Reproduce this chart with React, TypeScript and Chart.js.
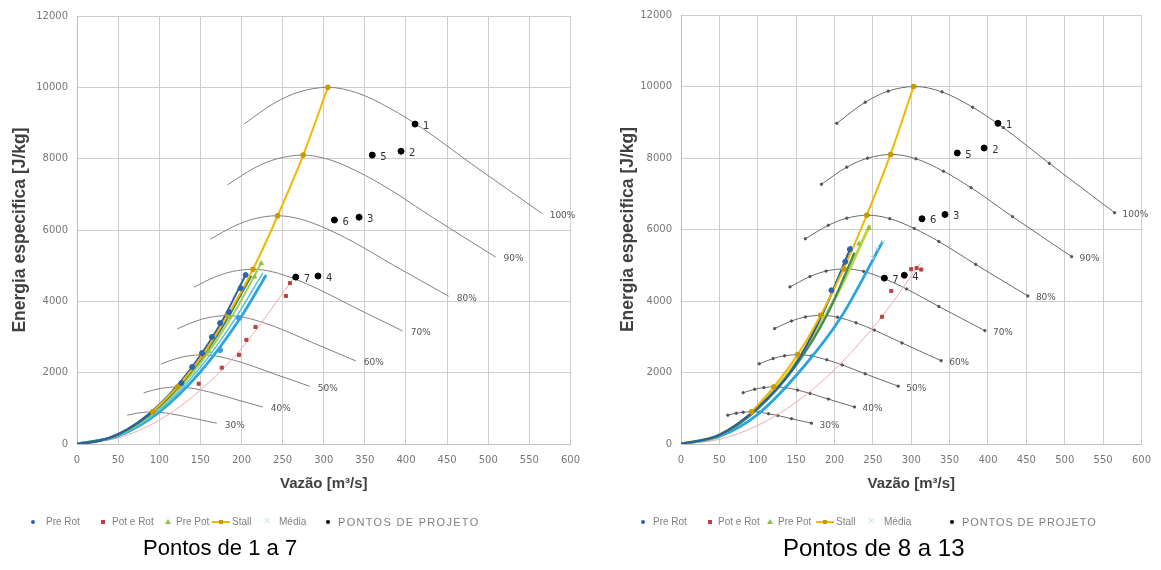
import React, { useEffect, useRef } from 'react';
import { Chart, registerables } from 'chart.js';
Chart.register(...registerables);

// ---------- rotation curves (same in both charts) ----------
const curveLabels = ['100%', '90%', '80%', '70%', '60%', '50%', '40%', '30%'];
const c100x = [203, 240, 270, 305, 340, 380, 420, 480, 565];
const c100y = [8970, 9560, 9870, 10000, 9850, 9420, 8850, 7850, 6470];
const c90x = [183, 216, 243, 275, 306, 342, 378, 432, 509];
const c90y = [7266, 7744, 7995, 8100, 7979, 7630, 7169, 6359, 5241];
const c80x = [162, 192, 216, 244, 272, 304, 336, 384, 452];
const c80y = [5741, 6118, 6317, 6400, 6304, 6029, 5664, 5024, 4141];
const c70x = [142, 168, 189, 214, 238, 266, 294, 336, 396];
const c70y = [4395, 4684, 4836, 4900, 4827, 4616, 4337, 3847, 3170];
const c60x = [122, 144, 162, 183, 204, 228, 252, 288, 339];
const c60y = [3229, 3442, 3553, 3600, 3546, 3391, 3186, 2826, 2329];
const c50x = [102, 120, 135, 153, 170, 190, 210, 240, 283];
const c50y = [2243, 2390, 2468, 2500, 2463, 2355, 2213, 1963, 1618];
const c40x = [81, 96, 108, 122, 136, 152, 168, 192, 226];
const c40y = [1435, 1530, 1579, 1600, 1576, 1507, 1416, 1256, 1035];
const c30x = [61, 72, 81, 92, 102, 114, 126, 144, 170];
const c30y = [807, 860, 888, 900, 887, 848, 797, 707, 582];
const curvesX = [c100x, c90x, c80x, c70x, c60x, c50x, c40x, c30x];
const curvesY = [c100y, c90y, c80y, c70y, c60y, c50y, c40y, c30y];

// ---------- stall line ----------
const stallX = [92, 122, 153, 183, 214, 244, 275, 305];
const stallY = [900, 1600, 2500, 3600, 4900, 6400, 8100, 10000];

// ---------- left chart: Pontos de 1 a 7 ----------
const L_preRotLineX = [0, 25, 50, 75, 100, 125, 150, 175, 205];
const L_preRotLineY = [0, 70, 280, 620, 1100, 1720, 2480, 3390, 4740];
const L_tealLineX = [0, 50, 100, 150, 180, 212];
const L_tealLineY = [0, 260, 1050, 2360, 3400, 4720];
const L_prePotLineX = [0, 50, 100, 150, 190, 224];
const L_prePotLineY = [0, 250, 1010, 2270, 3640, 5070];
const L_cyanLineX = [0, 50, 100, 150, 190, 226];
const L_cyanLineY = [0, 235, 950, 2150, 3430, 4800];
const L_mediaLineX = [0, 50, 100, 150, 200, 230];
const L_mediaLineY = [0, 225, 895, 2020, 3580, 4740];
const L_potRotLineX = [0, 50, 100, 150, 200, 265];
const L_potRotLineY = [0, 170, 670, 1510, 2680, 4700];
const L_preRotX = [127, 140, 152, 164, 174, 185, 199, 205];
const L_preRotY = [1710, 2160, 2550, 3000, 3390, 3700, 4370, 4740];
const L_potRotX = [148, 176, 197, 206, 217, 254, 259];
const L_potRotY = [1690, 2140, 2500, 2920, 3280, 4150, 4510];
const L_prePotX = [160, 185, 216, 224];
const L_prePotY = [2600, 3560, 4690, 5070];
const L_mediaX = [174, 197];
const L_mediaY = [2630, 3530];
const L_projX = [411, 394, 343, 293, 359, 313, 266];
const L_projY = [8970, 8210, 6360, 4710, 8100, 6280, 4680];
const projLabels = ['1', '2', '3', '4', '5', '6', '7'];

// ---------- right chart: Pontos de 8 a 13 ----------
const R_preRotLineX = [0, 50, 100, 144, 182, 222];
const R_preRotLineY = [0, 260, 1020, 2060, 3530, 5530];
const R_greenLineX = [0, 50, 100, 150, 190, 226];
const R_greenLineY = [0, 240, 980, 2200, 3600, 5350];
const R_prePotLineX = [0, 50, 100, 150, 200, 246];
const R_prePotLineY = [0, 250, 1010, 2280, 4040, 6120];
const R_mediaLineX = [0, 50, 100, 159, 208, 263];
const R_mediaLineY = [0, 210, 830, 2140, 3530, 5670];
const R_potRotLineX = [0, 50, 100, 150, 200, 262, 312];
const R_potRotLineY = [0, 130, 520, 1170, 2080, 3570, 5060];
const R_stallX = [92, 121, 152, 182, 212, 242, 273, 303];
const R_stallY = [900, 1600, 2500, 3600, 4900, 6400, 8100, 10000];
const R_preRotX = [196, 214, 220];
const R_preRotY = [4300, 5100, 5450];
const R_potRotX = [262, 274, 300, 307, 313];
const R_potRotY = [3560, 4280, 4890, 4920, 4880];
const R_prePotX = [232, 245];
const R_prePotY = [5600, 6030];
const R_mediaX = [250, 255, 263];
const R_mediaY = [5200, 5450, 5650];
const R_projX = [413, 395, 344, 291, 360, 314, 265];
const R_projY = [8970, 8280, 6420, 4720, 8140, 6300, 4640];

const pts = (xs: number[], ys: number[]) => xs.map((x, i) => ({ x, y: ys[i] }));

const FONT = 'DejaVu Sans';

const labelPlugin = {
  id: 'labels',
  afterDatasetsDraw(chart: any) {
    const ctx = chart.ctx;
    ctx.save();
    chart.data.datasets.forEach((ds: any, i: number) => {
      const meta = chart.getDatasetMeta(i);
      if (ds.endLabel) {
        const last = meta.data[meta.data.length - 1];
        ctx.font = `9px ${FONT}`;
        ctx.fillStyle = '#555555';
        ctx.textAlign = 'left';
        ctx.textBaseline = 'middle';
        ctx.fillText(ds.endLabel, last.x + 8, last.y + 2);
      }
      if (ds.pointLabels) {
        ctx.font = `10px ${FONT}`;
        ctx.fillStyle = '#333333';
        ctx.textAlign = 'left';
        ctx.textBaseline = 'middle';
        meta.data.forEach((el: any, j: number) => {
          ctx.fillText(ds.pointLabels[j], el.x + 8, el.y + 2);
        });
      }
    });
    ctx.restore();
  },
};

function line(data: any, color: string, width: number, extra: any = {}) {
  return {
    data,
    showLine: true,
    borderColor: color,
    backgroundColor: color,
    borderWidth: width,
    pointRadius: 0,
    cubicInterpolationMode: 'monotone',
    ...extra,
  };
}
function marks(data: any, color: string, style: string, r: number, extra: any = {}) {
  return {
    data,
    showLine: false,
    pointStyle: style,
    pointRadius: r,
    pointBackgroundColor: color,
    pointBorderColor: color,
    borderColor: color,
    backgroundColor: color,
    ...extra,
  };
}

function makeConfig(side: 'L' | 'R') {
  const isL = side === 'L';
  const datasets: any[] = [];
  datasets.push(marks(pts(isL ? L_projX : R_projX, isL ? L_projY : R_projY), '#000000', 'circle', 3, { pointLabels: projLabels }));
  if (isL) {
    datasets.push(marks(pts(L_potRotX, L_potRotY), '#b8423f', 'rect', 2.2));
    datasets.push(marks(pts(L_preRotX, L_preRotY), '#2f64aa', 'circle', 2.5));
    datasets.push(marks(pts(L_mediaX, L_mediaY), '#3d9be0', 'circle', 2.5));
    datasets.push(marks(pts(L_prePotX, L_prePotY), '#8fc043', 'triangle', 2.5));
    datasets.push(line(pts(stallX, stallY), '#f2b800', 2, { pointRadius: 1.8, pointBackgroundColor: '#c89a00', pointBorderColor: '#c89a00' }));
    datasets.push(line(pts(L_preRotLineX, L_preRotLineY), '#2c5f9e', 2));
    datasets.push(line(pts(L_tealLineX, L_tealLineY), '#2a7f78', 2));
    datasets.push(line(pts(L_prePotLineX, L_prePotLineY), '#a6cf4a', 2));
    datasets.push(line(pts(L_cyanLineX, L_cyanLineY), '#56c3e6', 1.6));
    datasets.push(line(pts(L_mediaLineX, L_mediaLineY), '#2aa5df', 2.8));
    datasets.push(line(pts(L_potRotLineX, L_potRotLineY), '#f2a9a9', 1));
  } else {
    datasets.push(marks(pts(R_potRotX, R_potRotY), '#b8423f', 'rect', 2.2));
    datasets.push(marks(pts(R_preRotX, R_preRotY), '#2f64aa', 'circle', 2.5));
    datasets.push(marks(pts(R_mediaX, R_mediaY), '#a7d8f0', 'crossRot', 3, { pointBorderWidth: 1 }));
    datasets.push(marks(pts(R_prePotX, R_prePotY), '#8fc043', 'triangle', 2.5));
    datasets.push(line(pts(R_stallX, R_stallY), '#f2b800', 2, { pointRadius: 1.8, pointBackgroundColor: '#c89a00', pointBorderColor: '#c89a00' }));
    datasets.push(line(pts(R_preRotLineX, R_preRotLineY), '#2c5f9e', 2.2));
    datasets.push(line(pts(R_greenLineX, R_greenLineY), '#3f8a5e', 2.2));
    datasets.push(line(pts(R_prePotLineX, R_prePotLineY), '#bcd53c', 3));
    datasets.push(line(pts(R_mediaLineX, R_mediaLineY), '#2aa5df', 2.8));
    datasets.push(line(pts(R_potRotLineX, R_potRotLineY), '#f2a9a9', 1));
  }
  curvesX.forEach((cx, i) => {
    datasets.push(
      line(pts(cx, curvesY[i]), isL ? '#808080' : '#6a6a6a', 1, {
        endLabel: curveLabels[i],
        pointRadius: isL ? 0 : 1.2,
        pointBackgroundColor: '#555555',
        pointBorderColor: '#555555',
      })
    );
  });

  const tickFont = { family: FONT, size: 10 };
  const xTitleFont = { family: 'Liberation Sans', size: 15, weight: 'bold' as const };
  const yTitleFont = { family: 'Liberation Sans', size: 17.5, weight: 'bold' as const };
  const plain = (v: any) => String(v);
  return {
    type: 'scatter' as const,
    data: { datasets },
    options: {
      responsive: false,
      animation: false as const,
      devicePixelRatio: 1,
      layout: { padding: isL ? { left: 0, right: 17, top: 16, bottom: 0 } : { left: 0, right: 12, top: 12, bottom: 0 } },
      plugins: { legend: { display: false }, tooltip: { enabled: false } },
      scales: {
        x: {
          type: 'linear' as const,
          min: 0,
          max: 600,
          ticks: { stepSize: 50, font: tickFont, color: '#777777', padding: 10, maxRotation: 0, callback: plain },
          grid: { color: '#cdcdcd', drawTicks: false },
          border: { color: '#bdbdbd' },
          title: { display: true, text: 'Vazão [m³/s]', font: xTitleFont, color: '#404040', padding: { top: 0, bottom: 7 } },
          afterFit: (s: any) => { s.height = 56; },
        },
        y: {
          type: 'linear' as const,
          min: 0,
          max: 12000,
          ticks: { stepSize: 2000, font: tickFont, color: '#777777', padding: 9, callback: plain },
          grid: { color: '#cdcdcd', drawTicks: false },
          border: { color: '#bdbdbd' },
          title: { display: true, text: 'Energia especifica [J/kg]', font: yTitleFont, color: '#404040', padding: { top: isL ? 10 : 18, bottom: 0 } },
          afterFit: (s: any) => { s.width = isL ? 77 : 81; },
        },
      },
    },
    plugins: [labelPlugin],
  };
}

function ChartCanvas({ side, left, width }: { side: 'L' | 'R'; left: number; width: number }) {
  const ref = useRef<HTMLCanvasElement>(null);
  useEffect(() => {
    const chart = new Chart(ref.current as HTMLCanvasElement, makeConfig(side) as any);
    return () => chart.destroy();
  }, [side]);
  return (
    <canvas
      ref={ref}
      width={width}
      height={500}
      style={{ position: 'fixed', left, top: 0, width, height: 500 }}
    />
  );
}

type LegItem = { name: string; mx: number; tx: number; kind: string; color: string; ls?: number };
const legendL: LegItem[] = [
  { name: 'Pre Rot', mx: 33, tx: 46, kind: 'dot', color: '#2f64aa' },
  { name: 'Pot e Rot', mx: 103, tx: 112, kind: 'sq', color: '#b8423f' },
  { name: 'Pre Pot', mx: 168, tx: 176, kind: 'tri', color: '#8fc043' },
  { name: 'Stall', mx: 212, tx: 232, kind: 'line', color: '#f2b800' },
  { name: 'Média', mx: 267, tx: 279, kind: 'x', color: '#c9e6f3' },
  { name: 'PONTOS DE PROJETO', mx: 328, tx: 338, kind: 'dot', color: '#000000', ls: 1.3 },
];
const legendR: LegItem[] = [
  { name: 'Pre Rot', mx: 643, tx: 653, kind: 'dot', color: '#2f64aa' },
  { name: 'Pot e Rot', mx: 710, tx: 718, kind: 'sq', color: '#b8423f' },
  { name: 'Pre Pot', mx: 770, tx: 778, kind: 'tri', color: '#8fc043' },
  { name: 'Stall', mx: 816, tx: 836, kind: 'line', color: '#f2b800' },
  { name: 'Média', mx: 871, tx: 884, kind: 'x', color: '#c9e6f3' },
  { name: 'PONTOS DE PROJETO', mx: 952, tx: 962, kind: 'dot', color: '#000000', ls: 0.9 },
];

function Marker({ it }: { it: LegItem }) {
  const cy = 522;
  if (it.kind === 'line') {
    return (
      <>
        <div style={{ position: 'fixed', left: it.mx, top: cy - 1, width: 18, height: 2, background: it.color }} />
        <div style={{ position: 'fixed', left: it.mx + 7, top: cy - 2, width: 4, height: 4, background: '#c89a00' }} />
      </>
    );
  }
  if (it.kind === 'tri') {
    return (
      <div style={{ position: 'fixed', left: it.mx - 3, top: cy - 3, width: 0, height: 0, borderLeft: '3px solid transparent', borderRight: '3px solid transparent', borderBottom: `5px solid ${it.color}` }} />
    );
  }
  if (it.kind === 'x') {
    return (
      <div style={{ position: 'fixed', left: it.mx - 4, top: cy - 7, fontSize: 10, lineHeight: '12px', color: it.color, fontFamily: FONT }}>×</div>
    );
  }
  const s = 4;
  return (
    <div style={{ position: 'fixed', left: it.mx - s / 2, top: cy - s / 2, width: s, height: s, borderRadius: it.kind === 'dot' ? '50%' : 0, background: it.color }} />
  );
}

function Legend({ items }: { items: LegItem[] }) {
  return (
    <>
      {items.map((it) => (
        <React.Fragment key={it.name + it.mx}>
          <Marker it={it} />
          <div style={{ position: 'fixed', left: it.tx, top: 515, fontFamily: 'Liberation Sans', fontSize: it.ls ? 11 : 10, lineHeight: '14px', color: '#7f7f7f', whiteSpace: 'nowrap', letterSpacing: it.ls ? `${it.ls}px` : 'normal' }}>{it.name}</div>
        </React.Fragment>
      ))}
    </>
  );
}

export default function App() {
  return (
    <div>
      <ChartCanvas side="L" left={0} width={590} />
      <ChartCanvas side="R" left={600} width={561} />
      <Legend items={legendL} />
      <Legend items={legendR} />
      <div style={{ position: 'fixed', left: 143, top: 535, fontFamily: 'Liberation Sans', fontSize: 22, lineHeight: '26px', color: '#000' }}>Pontos de 1 a 7</div>
      <div style={{ position: 'fixed', left: 783, top: 535, fontFamily: 'Liberation Sans', fontSize: 24, lineHeight: '26px', color: '#000' }}>Pontos de 8 a 13</div>
    </div>
  );
}
